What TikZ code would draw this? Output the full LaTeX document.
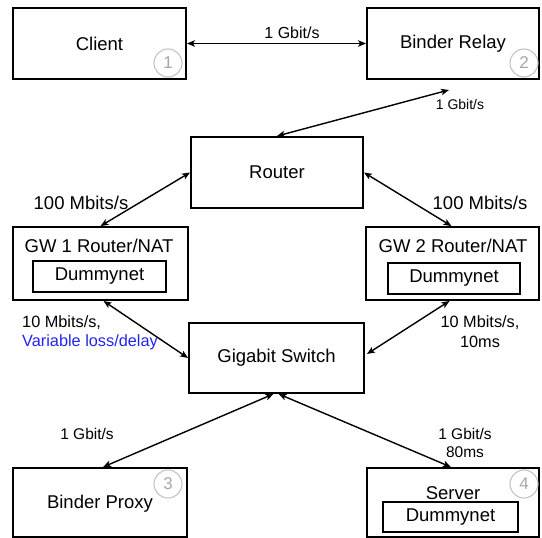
\documentclass[tikz,border=0pt]{standalone}
\usepackage{fontspec}
\setmainfont{Liberation Sans}
\usetikzlibrary{arrows.meta,calc}
\definecolor{numgray}{RGB}{195,195,195}
\definecolor{lblue}{RGB}{35,35,240}
\begin{document}
\begin{tikzpicture}[x=1pt,y=-1pt,
  box/.style={draw, line width=1.9pt, inner sep=0pt, font=\fontsize{18.5}{22}\selectfont},
  inbox/.style={draw, line width=1.6pt, inner sep=0pt, font=\fontsize{18.5}{22}\selectfont},
  txt/.style={inner sep=0pt, font=\fontsize{18.5}{22}\selectfont},
  link/.style={line width=1.4pt, {Stealth[length=8pt,width=6.5pt,inset=2pt]}-{Stealth[length=8pt,width=6.5pt,inset=2pt]}},
  num/.style={circle, draw=numgray, line width=1.1pt, minimum size=28pt, inner sep=0pt, text=numgray!85!black, font=\fontsize{17}{19}\selectfont},
  lbl/.style={inner sep=0pt, align=center}]
\useasboundingbox (0,0) rectangle (542,538);

% boxes
\node[box, minimum width=173pt, minimum height=71pt] (client) at (99.5,43.5) {Client};
\node[box, minimum width=172pt, minimum height=71pt] (relay) at (453,43.5) {Binder Relay};
\node[box, minimum width=172pt, minimum height=71pt] (router) at (277,172.5) {Router};
\node[box, minimum width=175pt, minimum height=73pt] (gw1) at (100.5,263.5) {};
\node[txt] (gw1t) at (99,246) {GW 1 Router/NAT};
\node[inbox, minimum width=133pt, minimum height=31pt] (dn1) at (99.5,276.5) {Dummynet};
\node[box, minimum width=173pt, minimum height=73pt] (gw2) at (452.5,263.5) {};
\node[txt] (gw2t) at (453,246) {GW 2 Router/NAT};
\node[inbox, minimum width=132pt, minimum height=31pt] (dn2) at (454,278.5) {Dummynet};
\node[box, minimum width=175pt, minimum height=70pt] (switch) at (276.5,358) {Gigabit Switch};
\node[box, minimum width=174pt, minimum height=69pt] (proxy) at (100,502.5) {};
\node[txt] (proxyt) at (100,504) {Binder Proxy};
\node[box, minimum width=172pt, minimum height=69pt] (server) at (453,502.5) {};
\node[txt] (servert) at (453,493) {Server};
\node[inbox, minimum width=135pt, minimum height=30pt] (dn3) at (450.5,517) {Dummynet};

% numbered circles
\node[num] (n1) at (168,63) {1};
\node[num] (n2) at (524,63) {2};
\node[num] (n3) at (168,484) {3};
\node[num] (n4) at (524,484) {4};

% links
\draw[link] (client.east) -- (relay.west);
\draw[link] ($(relay.south)+(-4,10)$) -- (router.north);
\draw[link] (router.west) -- (gw1.north);
\draw[link] (router.east) -- ($(gw2.north)+(-1,0)$);
\draw[link] ($(gw1.south)+(3,0)$) -- (switch.west);
\draw[link] ($(gw2.south)+(-3,0)$) -- ($(switch.east)+(2,-4)$);
\draw[link] ($(switch.south)+(-3,0)$) -- ($(proxy.north)+(3,0)$);
\draw[link] ($(switch.south)+(2,0)$) -- ($(server.north)+(-2,0)$);

% labels
\node[lbl, font=\fontsize{16}{18}\selectfont] (l1) at (292,33) {1 Gbit/s};
\node[lbl, font=\fontsize{14}{16}\selectfont] (l2) at (460,104) {1 Gbit/s};
\node[lbl, font=\fontsize{18.5}{22}\selectfont] (l3) at (81,203) {100 Mbits/s};
\node[lbl, font=\fontsize{18.5}{22}\selectfont] (l4) at (480,203) {100 Mbits/s};
\node[lbl, anchor=west, font=\fontsize{16.3}{18}\selectfont] (l5) at (22,323) {10 Mbits/s,};
\node[lbl, anchor=west, text=lblue, font=\fontsize{16.3}{18}\selectfont] (l6) at (22,342) {Variable loss/delay};
\node[lbl, font=\fontsize{16.3}{18}\selectfont] (l7) at (480,323) {10 Mbits/s,};
\node[lbl, font=\fontsize{16.3}{18}\selectfont] (l8) at (480,342) {10ms};
\node[lbl, font=\fontsize{15.5}{18}\selectfont] (l9) at (87,434) {1 Gbit/s};
\node[lbl, font=\fontsize{15.5}{18}\selectfont] (l10) at (465,434) {1 Gbit/s};
\node[lbl, font=\fontsize{15.5}{18}\selectfont] (l11) at (465,452) {80ms};
\end{tikzpicture}
\end{document}
